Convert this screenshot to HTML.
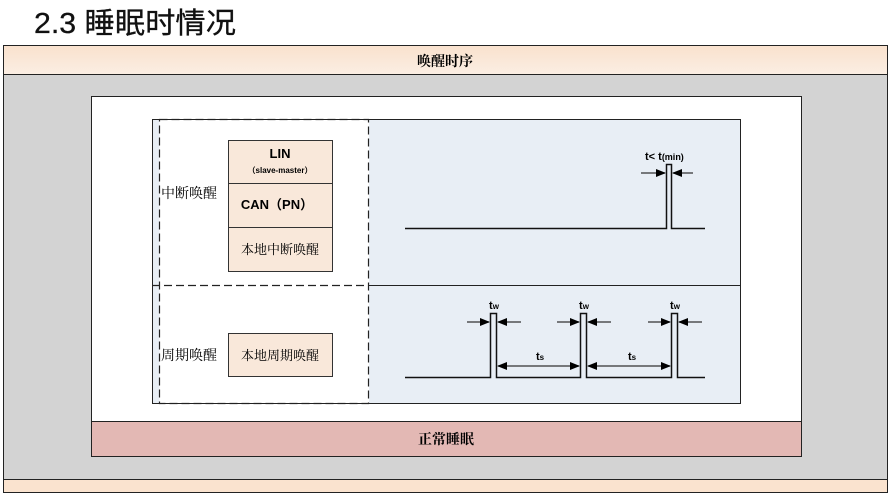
<!DOCTYPE html>
<html><head><meta charset="utf-8"><style>
html,body{margin:0;padding:0;background:#fff;width:890px;height:496px;overflow:hidden}
svg{display:block}
</style></head><body>
<svg width="890" height="496" viewBox="0 0 890 496" xmlns="http://www.w3.org/2000/svg">
<defs>
<linearGradient id="pg" x1="0" y1="0" x2="0" y2="1"><stop offset="0" stop-color="#f9e1cd"/><stop offset="1" stop-color="#fbeee3"/></linearGradient>
<marker id="ah" markerWidth="10" markerHeight="8" refX="9" refY="4" orient="auto" markerUnits="userSpaceOnUse"><path d="M0,0 L10,4 L0,8 z" fill="#000"/></marker>
</defs>
<text x="34" y="33" font-family="Liberation Sans, Noto Sans CJK SC, sans-serif" font-size="29" fill="#111" stroke="#111" stroke-width="0.3" textLength="202" lengthAdjust="spacingAndGlyphs">2.3  睡眠时情况</text>
<rect x="3.5" y="45.5" width="884" height="447" fill="#d3d3d3" stroke="#222"/>
<rect x="3.5" y="45.5" width="884" height="29" fill="url(#pg)" stroke="#222"/>
<text x="445" y="66" text-anchor="middle" font-family="Noto Serif CJK SC, serif" font-size="14" font-weight="bold">唤醒时序</text>
<rect x="3.5" y="479.5" width="884" height="13" fill="#fae3cf" stroke="#222"/>
<rect x="91.5" y="96.5" width="710" height="325" fill="#fff" stroke="#222"/>
<rect x="91.5" y="421.5" width="710" height="35" fill="#e3b8b4" stroke="#222"/>
<text x="446" y="444" text-anchor="middle" font-family="Noto Serif CJK SC, serif" font-size="14" font-weight="bold">正常睡眠</text>
<rect x="152.5" y="119.5" width="7" height="284" fill="#e8eef5"/>
<rect x="369" y="119.5" width="372" height="284" fill="#e8eef5"/>
<rect x="152.5" y="119.5" width="588" height="284" fill="none" stroke="#222"/>
<line x1="369" y1="285.5" x2="741" y2="285.5" stroke="#222"/>
<g stroke="#222" stroke-dasharray="8,4" fill="none" stroke-width="1.2">
<rect x="159.5" y="119.5" width="209" height="284"/>
<line x1="152" y1="285.5" x2="369" y2="285.5"/>
</g>
<g font-family="Noto Serif CJK SC, serif" font-size="14">
<text x="161" y="198">中断唤醒</text>
<text x="161" y="360">周期唤醒</text>
</g>
<g fill="#f9e8da" stroke="#333">
<rect x="228.5" y="140.5" width="104" height="43"/>
<rect x="228.5" y="183.5" width="104" height="44"/>
<rect x="228.5" y="227.5" width="104" height="44"/>
<rect x="228.5" y="333.5" width="104" height="43"/>
</g>
<g font-family="Liberation Sans, Noto Sans CJK SC, sans-serif" text-anchor="middle" font-weight="bold">
<text x="280" y="158" font-size="13">LIN</text>
<text x="280" y="173" font-size="8">（slave-master）</text>
<text x="277" y="209" font-size="13">CAN（PN）</text>
</g>
<g font-family="Noto Serif CJK SC, serif" text-anchor="middle" font-size="13">
<text x="280" y="254">本地中断唤醒</text>
<text x="280" y="360">本地周期唤醒</text>
</g>
<path d="M405,228.5 H666.5 V164.5 H671.5 V228.5 H705" fill="none" stroke="#111" stroke-width="1.5"/>
<g stroke="#333" stroke-width="1.3">
<line x1="641" y1="173" x2="665" y2="173" marker-end="url(#ah)"/>
<line x1="693" y1="173" x2="673" y2="173" marker-end="url(#ah)"/>
</g>
<text x="645" y="160" font-family="Liberation Sans, sans-serif" font-size="11" font-weight="bold">t&lt; t<tspan font-size="9">(min)</tspan></text>
<path d="M405,377.5 H490.5 V313.5 H496.5 V377.5 H580.5 V313.5 H586.5 V377.5 H671.5 V313.5 H677.5 V377.5 H705" fill="none" stroke="#111" stroke-width="1.5"/>
<g stroke="#333" stroke-width="1.3">
<line x1="467" y1="322" x2="489" y2="322" marker-end="url(#ah)"/>
<line x1="521" y1="322" x2="498" y2="322" marker-end="url(#ah)"/>
<line x1="557" y1="322" x2="579" y2="322" marker-end="url(#ah)"/>
<line x1="611" y1="322" x2="588" y2="322" marker-end="url(#ah)"/>
<line x1="648" y1="322" x2="670" y2="322" marker-end="url(#ah)"/>
<line x1="702" y1="322" x2="679" y2="322" marker-end="url(#ah)"/>
<line x1="540" y1="366" x2="498" y2="366" marker-end="url(#ah)"/>
<line x1="540" y1="366" x2="579" y2="366" marker-end="url(#ah)"/>
<line x1="630" y1="366" x2="588" y2="366" marker-end="url(#ah)"/>
<line x1="630" y1="366" x2="670" y2="366" marker-end="url(#ah)"/>
</g>
<g font-family="Liberation Sans, sans-serif" font-size="11" font-weight="bold" text-anchor="middle">
<text x="494" y="309">t<tspan font-size="8">w</tspan></text>
<text x="584" y="309">t<tspan font-size="8">w</tspan></text>
<text x="675" y="309">t<tspan font-size="8">w</tspan></text>
<text x="540" y="360">t<tspan font-size="8">s</tspan></text>
<text x="632" y="360">t<tspan font-size="8">s</tspan></text>
</g>
</svg>
</body></html>
